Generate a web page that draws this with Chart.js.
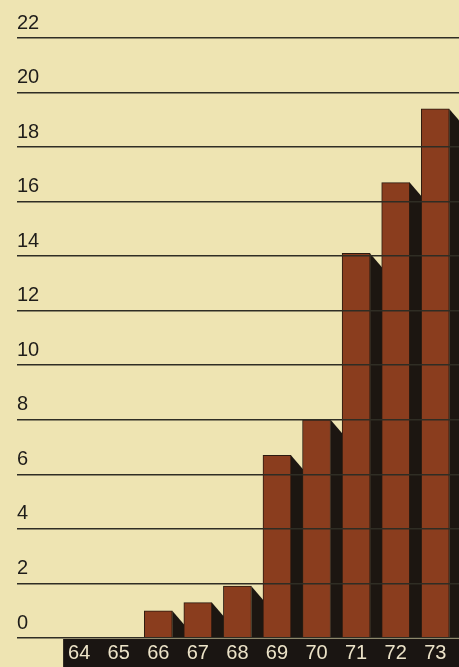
<!DOCTYPE html>
<html lang="en">
<head>
<meta charset="UTF-8">
<meta name="viewport" content="width=device-width, initial-scale=1">
<title>Bar chart 64-73</title>
<script src="https://cdn.jsdelivr.net/npm/chart.js"></script>
<style>
    body {
        margin: 0;
        background: #eee4b2;
    }
    .chart-box {
        position: relative;
        width: 459px;
        height: 667px;
    }
</style>
</head>
<body>
<div class="chart-box">
    <canvas id="barChart"></canvas>
</div>
<script>
    // data
    const years = [64, 65, 66, 67, 68, 69, 70, 71, 72, 73];
    const values = [0, 0, 1.0, 1.3, 1.9, 6.7, 8.0, 14.1, 16.7, 19.4];
    const yTicks = [0, 2, 4, 6, 8, 10, 12, 14, 16, 18, 20, 22];

    // paper background + black strip under the year labels
    const paperPlugin = {
        id: "paper",
        beforeDraw(chart) {
            const ctx = chart.ctx;
            const area = chart.chartArea;
            const x = chart.scales.x;
            ctx.save();
            ctx.fillStyle = "#eee4b2";
            ctx.fillRect(0, 0, chart.width, chart.height);
            const left = x.getPixelForValue(years[0]) - 16;
            ctx.fillStyle = "#1a1512";
            ctx.fillRect(left, area.bottom + 1, chart.width - left, chart.height - area.bottom);
            ctx.restore();
        }
    };

    // dark slanted shadow on the right side of each bar
    const shadowPlugin = {
        id: "barShadow",
        beforeDatasetsDraw(chart) {
            const ctx = chart.ctx;
            const meta = chart.getDatasetMeta(0);
            ctx.save();
            ctx.fillStyle = "#1c1611";
            meta.data.forEach(bar => {
                if (bar.base - bar.y < 1) return;
                const right = bar.x + bar.width / 2;
                ctx.beginPath();
                ctx.moveTo(right, bar.y);
                ctx.lineTo(right + 12, bar.y + 14);
                ctx.lineTo(right + 12, bar.base);
                ctx.lineTo(right, bar.base);
                ctx.closePath();
                ctx.fill();
            });
            ctx.restore();
        }
    };

    const ctx = document.getElementById("barChart").getContext("2d");
    new Chart(ctx, {
        type: "bar",
        data: {
            datasets: [{
                data: years.map((y, i) => ({ x: y, y: values[i] })),
                backgroundColor: "#8a3d1e",
                borderColor: "#2a1a10",
                borderWidth: 1,
                borderSkipped: "bottom",
                barThickness: 28
            }]
        },
        plugins: [paperPlugin, shadowPlugin],
        options: {
            responsive: true,
            maintainAspectRatio: false,
            animation: false,
            layout: {
                padding: { left: 17, top: 38, right: 0, bottom: 0 }
            },
            plugins: {
                legend: { display: false },
                tooltip: { enabled: false }
            },
            scales: {
                x: {
                    type: "linear",
                    offset: false,
                    min: 62.43,
                    max: 73.6,
                    grid: { display: false },
                    border: { display: false },
                    afterBuildTicks: axis => {
                        axis.ticks = years.map(v => ({ value: v }));
                    },
                    afterFit: axis => {
                        axis.height = 29;
                    },
                    ticks: {
                        color: "#ece3c8",
                        font: { family: "'Liberation Sans', Arial, sans-serif", size: 20 },
                        padding: -5,
                        maxRotation: 0,
                        autoSkip: false,
                        callback: v => String(v)
                    }
                },
                y: {
                    min: 0,
                    max: 22,
                    afterBuildTicks: axis => {
                        axis.ticks = yTicks.map(v => ({ value: v }));
                    },
                    afterFit: axis => {
                        axis.width = 0;
                    },
                    grid: {
                        color: "#2f2d24",
                        lineWidth: 1.6,
                        drawTicks: false,
                        z: 1
                    },
                    border: { display: false },
                    ticks: {
                        mirror: true,
                        padding: 0,
                        labelOffset: -15,
                        color: "#1f1d1a",
                        font: { family: "'Liberation Sans', Arial, sans-serif", size: 20 }
                    }
                }
            }
        }
    });
</script>
</body>
</html>
